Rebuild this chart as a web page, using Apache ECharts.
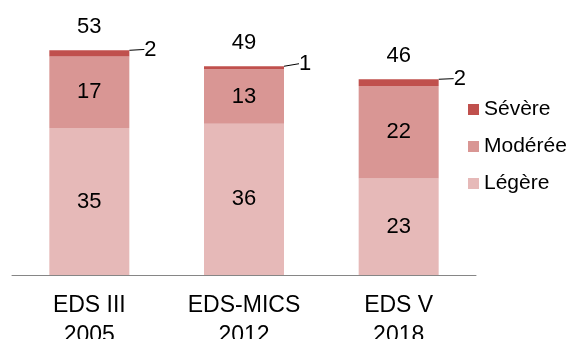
<!DOCTYPE html>
<html>
<head>
<meta charset="utf-8">
<script src="https://cdn.jsdelivr.net/npm/echarts@6/dist/echarts.min.js"></script>
<style>
  html, body { margin: 0; padding: 0; background: #fff; }
  #chart { width: 568px; height: 339px; }
</style>
</head>
<body>
<div id="chart"></div>
<script>
const categories = ["EDS III\n2005", "EDS-MICS\n2012", "EDS V\n2018"];
const legere = [35, 36, 23];
const moderee = [17, 13, 22];
const severe = [1.5, 0.7, 1.6];   // thin top band, label shows rounded value
const totals = [53, 49, 46];

const font = "'Liberation Sans', Arial, sans-serif";
const colors = { severe: "#C0504D", moderee: "#D99694", legere: "#E6B9B8" };

function drawChart(el = "chart") {
  const myChart = echarts.init(document.getElementById(el));
  const inside = { show: true, position: "inside", color: "#000", fontSize: 22, fontFamily: font };

  const option = {
    animation: false,
    grid: { left: 12, right: 92, top: 23, bottom: 64, outerBoundsMode: "none", containLabel: false },
    legend: {
      data: ["Sévère", "Modérée", "Légère"],
      orient: "vertical",
      left: 468,
      top: 99,
      padding: 0,
      itemWidth: 11,
      itemHeight: 11,
      itemGap: 16,
      icon: "rect",
      textStyle: { fontSize: 21, fontFamily: font, color: "#000" }
    },
    xAxis: {
      type: "category",
      data: categories,
      axisTick: { show: false },
      axisLine: { lineStyle: { color: "#868686", width: 1 } },
      axisLabel: { fontSize: 23, lineHeight: 30, margin: 16, color: "#000", fontFamily: font }
    },
    yAxis: { type: "value", min: 0, max: 60, show: false, splitLine: { show: false } },
    series: [
      {
        name: "Légère", type: "bar", stack: "s", barWidth: 80,
        itemStyle: { color: colors.legere },
        label: inside,
        data: legere
      },
      {
        name: "Modérée", type: "bar", stack: "s",
        itemStyle: { color: colors.moderee },
        label: inside,
        data: moderee
      },
      {
        name: "Sévère", type: "bar", stack: "s",
        itemStyle: { color: colors.severe },
        label: {
          show: true, position: "right", distance: 5, color: "#000", fontSize: 22, fontFamily: font,
          formatter: p => Math.round(p.value)
        },
        labelLayout: { dx: 10, dy: -4 },
        labelLine: { show: true, lineStyle: { color: "#000", width: 1 } },
        data: severe
      },
      {
        name: "Total", type: "bar", stack: "s",
        itemStyle: { color: "transparent" },
        label: {
          show: true, position: "top", distance: 12, color: "#000", fontSize: 22, fontFamily: font,
          formatter: p => totals[p.dataIndex]
        },
        data: totals.map(() => 0)
      }
    ]
  };
  myChart.setOption(option);
}
drawChart();
</script>
</body>
</html>
